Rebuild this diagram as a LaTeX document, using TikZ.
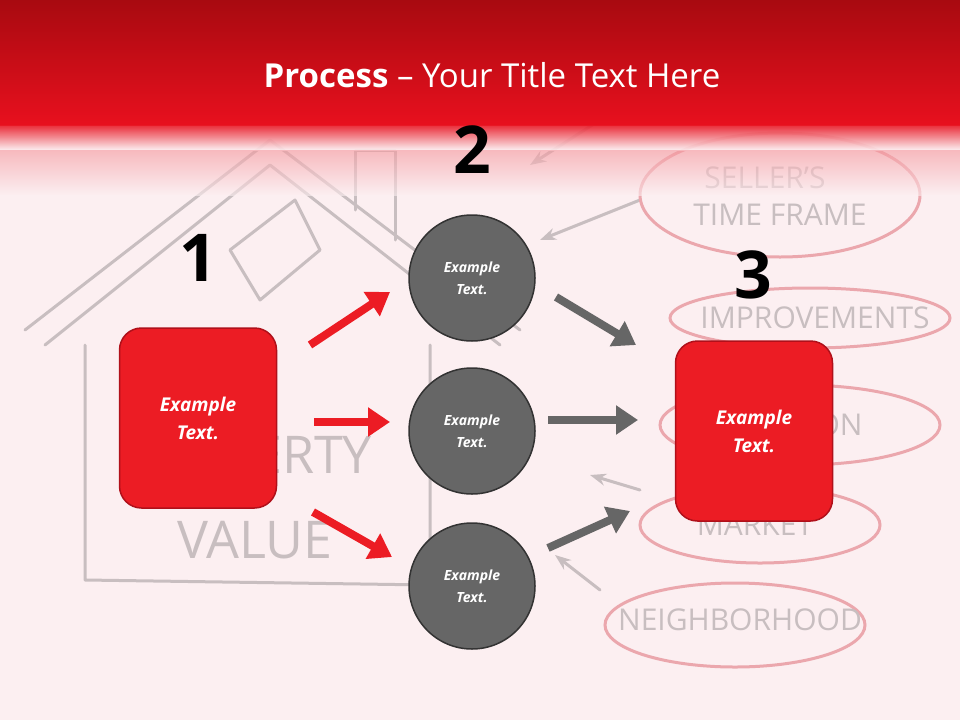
\documentclass[tikz,border=0pt]{standalone}
\usepackage{fontspec}
\setmainfont{Open Sans}
\usetikzlibrary{arrows.meta}
\definecolor{bgp}{HTML}{FCEFF1}
\definecolor{rtop}{HTML}{A80A10}
\definecolor{rmid}{HTML}{E8101E}
\definecolor{boxred}{HTML}{EC1C24}
\definecolor{boxedge}{HTML}{B0101A}
\definecolor{cgray}{HTML}{666666}
\definecolor{sk}{HTML}{C8BEC0}
\definecolor{skp}{HTML}{EBA7AD}
\tikzset{
 sq/.style={rounded corners=22pt,fill=boxred,draw=boxedge,line width=1.5pt,minimum width=157pt,minimum height=180pt,text=white,font=\bfseries\itshape\fontsize{19}{28}\selectfont,align=center},
 circ/.style={circle,fill=cgray,draw=black!80,line width=1.5pt,minimum size=126pt,text=white,font=\bfseries\itshape\fontsize{14}{22}\selectfont,align=center},
 num/.style={font=\bfseries\fontsize{66}{66}\selectfont},
 rarr/.style={line width=8pt,draw=boxred,-{Triangle[length=22pt,width=28pt]}},
 garr/.style={line width=8pt,draw=cgray,-{Triangle[length=22pt,width=28pt]}},
 sketch/.style={draw=sk,line width=3pt,line cap=round,line join=round},
 skt/.style={text=sk,font=\fontsize{52}{52}\selectfont},
 pk/.style={draw=skp,line width=3pt},
 pkt/.style={text=sk,font=\fontsize{30}{30}\selectfont}
}
\begin{document}
\begin{tikzpicture}[x=1pt,y=-1pt]
\useasboundingbox (0,0) rectangle (960,720);
\fill[bgp] (0,0) rectangle (960,720);
% sketch background
\draw[sketch] (25,330) -- (270,140) -- (520,330);
\draw[sketch] (45,345) -- (270,165) -- (500,345);
\draw[sketch] (355,210) -- (355,150) -- (395,150) -- (395,240);
\draw[sketch] (85,345) -- (85,580) -- (430,585) -- (430,345);
\draw[sketch] (230,250) -- (295,200) -- (320,250) -- (260,300) -- cycle;
\node[skt] (pv1) at (245,455) {PROPERTY};
\node[skt] (pv2) at (255,540) {VALUE};
\draw[sketch,-{Stealth[length=16pt]}] (600,120) -- (530,165);
\draw[sketch,-{Stealth[length=16pt]}] (640,200) -- (540,240);
\draw[sketch,-{Stealth[length=16pt]}] (640,490) -- (590,475);
\draw[sketch,-{Stealth[length=16pt]}] (600,590) -- (555,555);
\draw[pk] (780,195) ellipse (140 and 62);
\draw[pk] (810,318) ellipse (140 and 30);
\draw[pk] (800,425) ellipse (140 and 40);
\draw[pk] (760,525) ellipse (120 and 38);
\draw[pk] (735,625) ellipse (130 and 42);
\node[pkt] (t1) at (765,178) {SELLER'S};
\node[pkt] (t2) at (780,215) {TIME FRAME};
\node[pkt] (t3) at (815,318) {IMPROVEMENTS};
\node[pkt] (t4) at (790,425) {LOCATION};
\node[pkt] (t5) at (755,525) {MARKET};
\node[pkt] (t6) at (740,620) {NEIGHBORHOOD};
% title band
\shade[top color=rtop,bottom color=rmid] (0,0) rectangle (960,125);
\shade[top color=rmid,bottom color=bgp,opacity=0.9] (0,124) rectangle (960,150);
\shade[top color=bgp!60!rmid,bottom color=bgp,opacity=0.6] (0,150) rectangle (960,195);
\node[text=white,font=\fontsize{33}{33}\selectfont] (title) at (492,75) {\textbf{Process} – Your Title Text Here};
% numbers
\node[num] (n1) at (198,258) {1};
\node[num] (n2) at (472,150) {2};
\node[num] (n3) at (753,275) {3};
% boxes
\node[sq] (b1) at (198,418) {Example\\Text.};
\node[sq] (b3) at (754,431) {Example\\Text.};
\node[circ] (c1) at (472,278) {Example\\Text.};
\node[circ] (c2) at (472,431) {Example\\Text.};
\node[circ] (c3) at (472,586) {Example\\Text.};
% arrows
\coordinate (r1s) at (310,345); \coordinate (r1e) at (390,292);
\coordinate (r2s) at (314,422); \coordinate (r2e) at (390,422);
\coordinate (r3s) at (313,512); \coordinate (r3e) at (392,557);
\coordinate (g1s) at (556,297); \coordinate (g1e) at (636,345);
\coordinate (g2s) at (548,420); \coordinate (g2e) at (638,420);
\coordinate (g3s) at (548,548); \coordinate (g3e) at (630,511);
\draw[rarr] (r1s) -- (r1e);
\draw[rarr] (r2s) -- (r2e);
\draw[rarr] (r3s) -- (r3e);
\draw[garr] (g1s) -- (g1e);
\draw[garr] (g2s) -- (g2e);
\draw[garr] (g3s) -- (g3e);
\end{tikzpicture}
\end{document}
